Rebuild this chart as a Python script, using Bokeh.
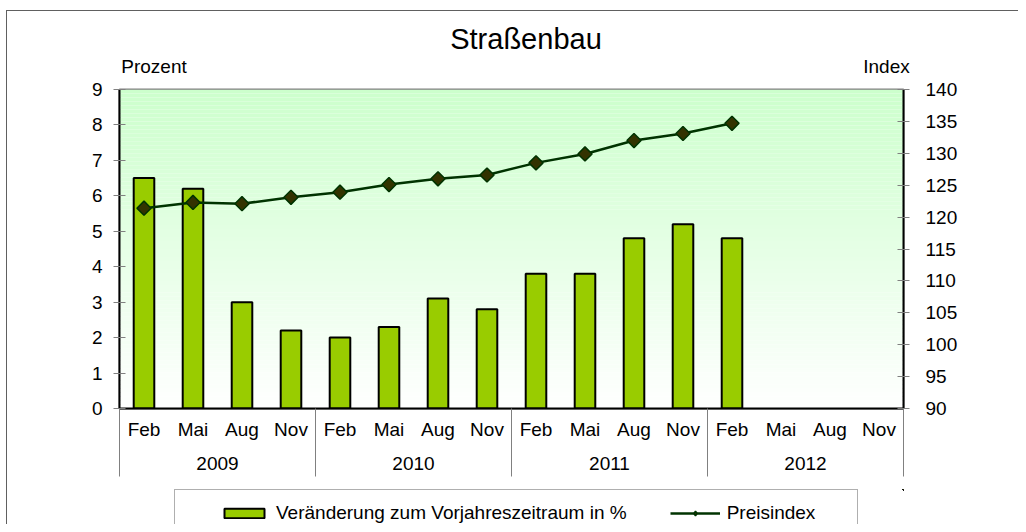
import numpy as np
from bokeh.plotting import figure
from bokeh.layouts import column
from bokeh.models import (Range1d, LinearAxis, FixedTicker, Legend, LegendItem,
                          BoxAnnotation, ColumnDataSource, InlineStyleSheet)
from bokeh.embed import file_html
from bokeh.resources import INLINE

# ---------------- data ----------------
title_text = "Straßenbau"
left_title = "Prozent"
right_title = "Index"
months = ["Feb", "Mai", "Aug", "Nov"] * 4
years = ["2009", "2010", "2011", "2012"]
change_pct = [6.5, 6.2, 3.0, 2.2, 2.0, 2.3, 3.1, 2.8, 3.8, 3.8, 4.8, 5.2, 4.8]
price_index = [121.4, 122.3, 122.1, 123.1, 123.9, 125.1, 126.0, 126.6,
               128.5, 129.9, 132.0, 133.1, 134.7]
left_ticks = list(range(0, 10))
right_ticks = list(range(90, 141, 5))
bar_label = "Veränderung zum Vorjahreszeitraum in %"
line_label = "Preisindex"

FONT = "Liberation Sans"
FS = "19px"

n_slots = len(months)
slot_x = [i + 0.5 for i in range(n_slots)]
group_size = n_slots // len(years)
year_x = [group_size * i + group_size / 2 for i in range(len(years))]
sep_x = [group_size * i for i in range(len(years) + 1)]

src_bar = ColumnDataSource(dict(x=slot_x[:len(change_pct)], pct=change_pct))
src_idx = ColumnDataSource(dict(x=slot_x[:len(price_index)], idx=price_index))

BAR_STYLE = dict(fill_color="#99CC00", line_color="black", line_width=2)
LINE_STYLE = dict(line_color="#003300", line_width=2.5)
MARK_STYLE = dict(fill_color="#333300", line_color="#003300", line_width=1.5)

p = figure(width=1018, height=489,
           min_border_left=119, min_border_right=115,
           min_border_top=89, min_border_bottom=81,
           x_range=Range1d(0, n_slots), y_range=Range1d(left_ticks[0], left_ticks[-1]),
           output_backend="svg", toolbar_location=None,
           background_fill_color="white", border_fill_color="white")
p.extra_y_ranges = {"idx": Range1d(right_ticks[0], right_ticks[-1])}
p.xgrid.grid_line_color = None
p.ygrid.grid_line_color = None
p.outline_line_color = "#808080"
p.outline_line_width = 2

# gradient background (light green at top -> white at bottom)
N = 80
top_c = np.array([204, 255, 204])
bot_c = np.array([255, 255, 255])
edges = np.linspace(left_ticks[0], left_ticks[-1], N + 1)
for k in range(N):
    t = (k + 0.5) / N
    c = (bot_c * (1 - t) + top_c * t).round().astype(int)
    p.add_layout(BoxAnnotation(bottom=edges[k], top=edges[k + 1],
                               fill_color="#%02x%02x%02x" % tuple(c), fill_alpha=1.0,
                               line_color=None, level="image"))

p.vbar(x="x", top="pct", bottom=0, width=0.42, source=src_bar, **BAR_STYLE)
p.line(x="x", y="idx", source=src_idx, y_range_name="idx", **LINE_STYLE)
p.scatter(x="x", y="idx", source=src_idx, y_range_name="idx",
          marker="square", angle=np.pi / 4, size=10, **MARK_STYLE)


def style_labels(ax, size=FS):
    ax.major_label_text_font = FONT
    ax.major_label_text_font_size = size
    ax.major_label_text_color = "black"


def hide_lines(ax):
    ax.axis_line_color = None
    ax.major_tick_line_color = None
    ax.minor_tick_line_color = None
    ax.major_tick_in = 0
    ax.major_tick_out = 0
    ax.minor_tick_in = 0
    ax.minor_tick_out = 0


# left axis
ya = p.yaxis[0]
ya.ticker = FixedTicker(ticks=left_ticks)
ya.axis_line_color = "black"
ya.axis_line_width = 2
ya.major_tick_line_color = "#808080"
ya.major_tick_in = 6
ya.major_tick_out = 6
ya.minor_tick_line_color = None
ya.major_label_standoff = 11
style_labels(ya)

# right axis
ra = LinearAxis(y_range_name="idx", ticker=FixedTicker(ticks=right_ticks))
ra.axis_line_color = "black"
ra.axis_line_width = 2
ra.major_tick_line_color = "#808080"
ra.major_tick_in = 6
ra.major_tick_out = 6
ra.minor_tick_line_color = None
ra.major_label_standoff = 16
style_labels(ra)
p.add_layout(ra, "right")

# bottom axis: months, group separators as long minor ticks
xa = p.xaxis[0]
xa.ticker = FixedTicker(ticks=slot_x, minor_ticks=sep_x)
xa.major_label_overrides = {float(x): m for x, m in zip(slot_x, months)}
xa.axis_line_color = "black"
xa.axis_line_width = 2
xa.major_tick_line_color = None
xa.major_tick_in = 0
xa.major_tick_out = 0
xa.minor_tick_line_color = "#808080"
xa.minor_tick_line_width = 1
xa.minor_tick_in = 0
xa.minor_tick_out = 68
xa.major_label_standoff = -58
style_labels(xa)

# second bottom axis: years
xb = LinearAxis(ticker=FixedTicker(ticks=year_x))
xb.major_label_overrides = {float(x): y for x, y in zip(year_x, years)}
hide_lines(xb)
xb.major_label_standoff = 14
style_labels(xb)
p.add_layout(xb, "below")

# axis titles above the frame (as tick labels of an unlined axis)
title_pos = [(117 + 190) / 2, 909 - 23]
title_x = [(v - 119) / 49.0 for v in title_pos]
ta = LinearAxis(ticker=FixedTicker(ticks=title_x))
ta.major_label_overrides = {title_x[0]: left_title, title_x[1]: right_title}
hide_lines(ta)
ta.major_label_standoff = 13
style_labels(ta)
p.add_layout(ta, "above")

# chart title
tx = (525.5 - 119) / 49.0
tt = LinearAxis(ticker=FixedTicker(ticks=[tx]))
tt.major_label_overrides = {tx: title_text}
hide_lines(tt)
tt.major_label_standoff = -2
style_labels(tt, "29px")
p.add_layout(tt, "above")

p.stylesheets = [InlineStyleSheet(css="""
:host { position: relative; }
:host::before { content: ""; position: absolute; left: 6px; top: 10px; right: 0; bottom: 0;
  border-top: 1px solid #606060; border-left: 1px solid #606060;
  pointer-events: none; z-index: 100; }
""")]

# ---------------- legend strip ----------------
lg = figure(width=1018, height=35, min_border=0,
            x_range=Range1d(-100, -99), y_range=Range1d(-100, -99),
            x_axis_location=None, y_axis_location=None,
            output_backend="svg", toolbar_location=None,
            background_fill_color="white", border_fill_color="white")
lg.outline_line_color = None
lg.xgrid.grid_line_color = None
lg.ygrid.grid_line_color = None
lg.extra_y_ranges = {"idx": Range1d(-100, -99)}
lb = lg.vbar(x="x", top="pct", bottom=0, width=0.42, source=src_bar, **BAR_STYLE)
ll = lg.line(x="x", y="idx", source=src_idx, y_range_name="idx", **LINE_STYLE)
lp = lg.scatter(x="x", y="idx", source=src_idx, y_range_name="idx",
                marker="diamond", size=10, **MARK_STYLE)

legend = Legend(items=[LegendItem(label=bar_label, renderers=[lb]),
                       LegendItem(label=line_label, renderers=[ll, lp])],
                orientation="horizontal", location=(55, -13),
                title="\u00a0", title_location="left", title_text_font_size="1px",
                title_standoff=31,
                border_line_color="#606060", border_line_width=1,
                background_fill_color="white", background_fill_alpha=1,
                glyph_width=50, glyph_height=12, label_standoff=7, spacing=43,
                label_width=118, padding=12, margin=0,
                label_text_font=FONT, label_text_font_size=FS, label_text_color="black")
lg.add_layout(legend)

lg.stylesheets = [InlineStyleSheet(css="""
:host { position: relative; }
:host::before { content: ""; position: absolute; left: 6px; top: 0; right: 0; bottom: 0;
  border-left: 1px solid #606060; pointer-events: none; z-index: 100; }
""")]

layout = column(p, lg, spacing=0)
open("out.html", "w").write(file_html(layout, INLINE))
